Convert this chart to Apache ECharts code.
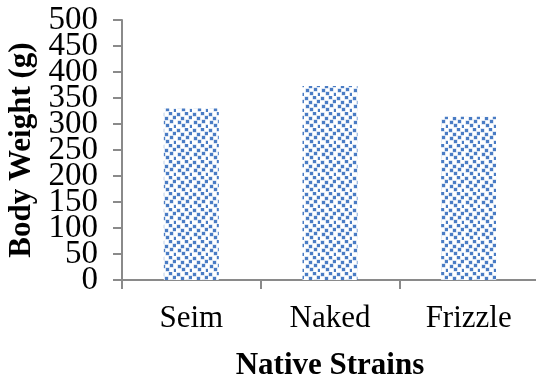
<!DOCTYPE html>
<html>
<head>
<meta charset="utf-8">
<script src="https://cdn.jsdelivr.net/npm/echarts@6/dist/echarts.min.js"></script>
<style>html,body{margin:0;padding:0;background:#fff}#c{width:536px;height:379px}</style>
</head>
<body>
<div id="c"></div>
<script>
const categories = ['Seim', 'Naked', 'Frizzle'];
const bodyWeight = [330, 373, 314];
const yTicks = [0, 50, 100, 150, 200, 250, 300, 350, 400, 450, 500];

function makePattern() {
  const cv = document.createElement('canvas');
  cv.width = 16; cv.height = 16;
  const g = cv.getContext('2d');
  g.fillStyle = '#ffffff';
  g.fillRect(0, 0, 16, 16);
  const sq = [[1,1],[9,0],[5,5],[13,4],[2,9],[10,8],[6,12],[14,13]];
  sq.forEach(p => {
    g.fillStyle = '#bccfea';
    g.fillRect(p[0] - 0.5, p[1] - 0.5, 4, 4);
    g.fillStyle = '#4a7cc4';
    g.fillRect(p[0], p[1], 3, 3);
  });
  return cv;
}

const chart = echarts.init(document.getElementById('c'), null, {renderer: 'canvas'});
const font = "'Liberation Serif', 'Times New Roman', serif";
const yMin = yTicks[0], yMax = yTicks[yTicks.length - 1], yStep = yTicks[1] - yTicks[0];
const yLabelStyle = {fontFamily: font, fontSize: 33, color: '#000', margin: 24, hideOverlap: false};
chart.setOption({
  animation: false,
  grid: {left: 122, right: -2, top: 20, bottom: 99, containLabel: false, outerBoundsMode: 'none'},
  xAxis: {
    type: 'category',
    data: categories,
    name: 'Native Strains',
    nameLocation: 'middle',
    nameGap: 70,
    nameTextStyle: {fontFamily: font, fontSize: 31, fontWeight: 'bold', color: '#000'},
    axisLine: {lineStyle: {color: '#8a8a8a', width: 2}},
    axisTick: {show: true, length: 9, lineStyle: {color: '#8a8a8a', width: 2}},
    axisLabel: {fontFamily: font, fontSize: 31, color: '#000', margin: 23}
  },
  yAxis: [{
    type: 'value',
    position: 'left',
    min: yMin, max: yMax, interval: yStep,
    name: 'Body Weight (g)',
    nameLocation: 'middle',
    nameGap: 84,
    nameTextStyle: {fontFamily: font, fontSize: 31, fontWeight: 'bold', color: '#000'},
    splitLine: {show: false},
    axisLine: {show: true, lineStyle: {color: '#8a8a8a', width: 2}},
    axisTick: {show: true, length: 9, lineStyle: {color: '#8a8a8a', width: 2}},
    axisLabel: Object.assign({}, yLabelStyle, {
      formatter: v => (Math.round(v / yStep) % 2 === 0 ? String(v) : '')
    })
  }, {
    type: 'value',
    position: 'left',
    offset: 0,
    min: yMin, max: yMax, interval: yStep,
    splitLine: {show: false},
    axisLine: {show: false},
    axisTick: {show: false},
    axisLabel: Object.assign({}, yLabelStyle, {
      formatter: v => (Math.round(v / yStep) % 2 === 1 ? String(v) : '')
    })
  }],
  series: [{
    type: 'bar',
    data: bodyWeight,
    barWidth: 55,
    yAxisIndex: 0,
    itemStyle: {color: {image: makePattern(), repeat: 'repeat'}}
  }]
});
</script>
</body>
</html>
